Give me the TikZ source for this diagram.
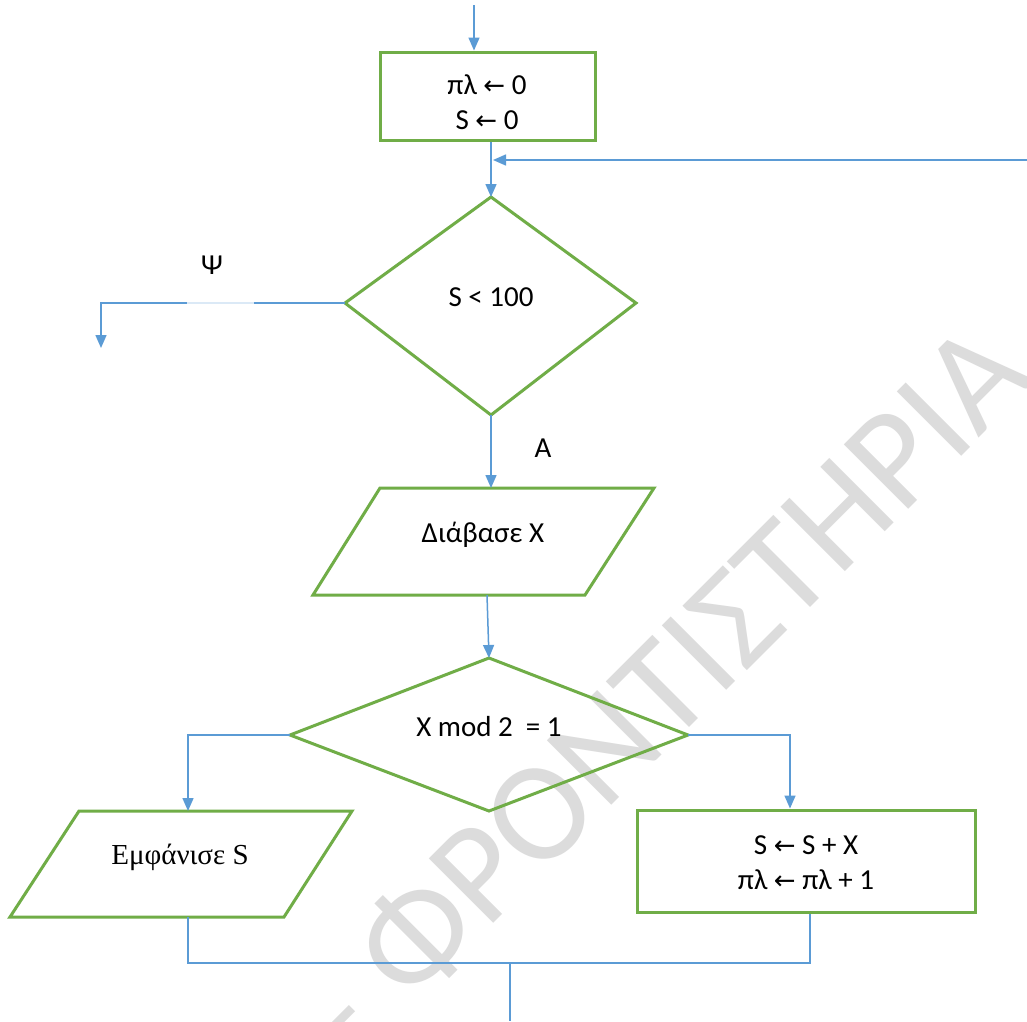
\documentclass[tikz,border=0pt]{standalone}
\usepackage{fontspec}
\setmainfont{Carlito}
\newfontfamily\timesf{Liberation Serif}
\newfontfamily\arrf{DejaVu Sans}
\usetikzlibrary{arrows.meta}
\definecolor{lgreen}{HTML}{70AD47}
\definecolor{lblue}{HTML}{5B9BD5}
\definecolor{wmgray}{HTML}{DCDCDC}
\newcommand{\larr}{{\arrf\fontsize{26}{26}\selectfont ←}}
\begin{document}
\begin{tikzpicture}[x=1pt,y=-1pt,
  shapeline/.style={draw=lgreen,line width=3pt,line join=miter},
  conn/.style={draw=lblue,line width=1.5pt},
  arr/.style={conn,-{Triangle[length=13pt,width=11pt]}},
  txt/.style={font=\fontsize{29}{35}\selectfont,align=center,inner sep=0pt}
]
\fill[white] (0,0) rectangle (1027,1021);
\useasboundingbox (0,0) rectangle (1027,1021);
% watermark
\node[text=wmgray,rotate=45,font=\fontsize{142}{142}\selectfont,inner sep=0pt] (wm) at (655,698) {– ΦΡΟΝΤΙΣΤΗΡΙΑ};

% box 1
\node[shapeline,minimum width=215pt,minimum height=88pt] (b1) at (487.5,96) {};
\node[txt] (b1t) at (487,102) {πλ \larr{} 0\\S \larr{} 0};
\coordinate (start) at (474,5);
\draw[arr] (start) -- (start |- b1.north);

% diamond 1
\coordinate (d1t) at (491,197);
\coordinate (d1r) at (636,303);
\coordinate (d1b) at (491,415);
\coordinate (d1l) at (345,303);
\draw[shapeline] (d1t) -- (d1r) -- (d1b) -- (d1l) -- cycle;
\node[txt] (d1) at (491,297) {S < 100};
\draw[arr] (b1.south -| d1t) -- (d1t);

% loop back
\coordinate (loopin) at (1027,160);
\coordinate (loopend) at (493,160);
\draw[arr] (loopin) -- (loopend);

% false exit
\coordinate (no) at (101,348);
\draw[arr] (d1l) -- (no |- d1l) -- (no);
\coordinate (gapa) at (187,303);
\coordinate (gapb) at (254,303);
\draw[conn,draw=lblue!22] (gapa) -- (gapb);
\node[txt] (psi) at (212,265) {Ψ};
\node[txt] (alpha) at (543,448) {Α};

% parallelogram 1
\coordinate (p1tl) at (380,488);
\coordinate (p1tr) at (654,488);
\coordinate (p1br) at (585,595);
\coordinate (p1bl) at (313,595);
\draw[shapeline] (p1tl) -- (p1tr) -- (p1br) -- (p1bl) -- cycle;
\node[txt] (p1) at (483,535) {Διάβασε X};
\draw[arr] (d1b) -- (d1b |- p1tl);

% diamond 2
\coordinate (d2t) at (489,658);
\coordinate (d2r) at (688,735);
\coordinate (d2b) at (489,811);
\coordinate (d2l) at (290,735);
\draw[shapeline] (d2t) -- (d2r) -- (d2b) -- (d2l) -- cycle;
\node[txt] (d2) at (489,727) {X mod 2~~= 1};
\coordinate (p1out) at (487,595);
\draw[arr] (p1out) -- (d2t);

% parallelogram 2
\coordinate (p2tl) at (79,811);
\coordinate (p2tr) at (352,811);
\coordinate (p2br) at (284,917);
\coordinate (p2bl) at (10,917);
\draw[shapeline] (p2tl) -- (p2tr) -- (p2br) -- (p2bl) -- cycle;
\node[txt,font=\timesf\fontsize{29}{35}\selectfont] (p2) at (180,857) {Εμφάνισε S};
\coordinate (lb) at (188,735);
\draw[arr] (d2l) -- (lb) -- (lb |- p2tl);

% box 2
\node[shapeline,minimum width=338pt,minimum height=102pt] (b2) at (806,861) {};
\node[txt] (b2t) at (806,863) {S \larr{} S + X\\πλ \larr{} πλ + 1};
\coordinate (rb) at (790,735);
\draw[arr] (d2r) -- (rb) -- (rb |- b2.north);

% join
\coordinate (p2out) at (188,917);
\coordinate (j1) at (188,963);
\coordinate (j2) at (810,963);
\coordinate (jm) at (510,963);
\coordinate (endc) at (510,1021);
\draw[conn] (p2out) -- (j1) -- (j2) -- (b2.south -| j2);
\draw[conn] (jm) -- (endc);
\end{tikzpicture}
\end{document}
